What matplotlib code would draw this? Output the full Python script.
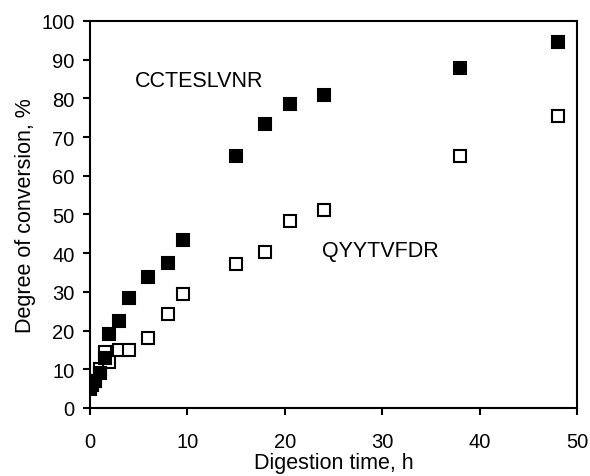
import matplotlib.pyplot as plt
import numpy as np

plt.rcParams['font.family'] = ['Liberation Sans', 'DejaVu Sans']

# digestion time, h
time_h = [0, 0.25, 0.5, 1, 1.5, 2, 3, 4, 6, 8, 9.5, 15, 18, 20.5, 24, 38, 48]
# degree of conversion, %
cctes = [5.5, 6.5, 7, 9, 13, 19, 22.5, 28.5, 33.8, 37.5, 43.4, 65, 73.4, 78.5, 81, 87.8, 94.7]
qyyt = [5, 6, 7, 10, 14.5, 11.8, 15, 15, 18, 24.3, 29.5, 37.2, 40.2, 48.2, 51.2, 65.2, 75.5]

fig = plt.figure(figsize=(5.9, 4.77), dpi=100)
ax = fig.add_axes([0.1525, 0.1426, 0.8255, 0.8113])

# open squares first, filled on top
ax.plot(time_h, qyyt, linestyle='none', marker='s', markersize=8.3,
        markerfacecolor='white', markeredgecolor='black', markeredgewidth=1.5)
ax.plot(time_h, cctes, linestyle='none', marker='s', markersize=8.3,
        markerfacecolor='black', markeredgecolor='black', markeredgewidth=1.5)

ax.text(4.6, 84.5, 'CCTESLVNR', fontsize=15.5, va='center', ha='left')
ax.text(23.8, 40.6, 'QYYTVFDR', fontsize=15.5, va='center', ha='left')

ax.set_xlim(0, 50)
ax.set_ylim(0, 100)
ax.set_xticks(np.arange(0, 51, 10))
ax.set_yticks(np.arange(0, 101, 10))

for s in ax.spines.values():
    s.set_linewidth(1.5)

ax.tick_params(axis='x', direction='out', length=5, width=1.5, labelsize=14.5, pad=12)
ax.tick_params(axis='y', direction='out', length=5, width=1.5, labelsize=14.5, pad=6)

ax.set_xlabel('Digestion time, h', fontsize=15.5, labelpad=1)
ax.set_ylabel('Degree of conversion, %', fontsize=15.5, labelpad=4)

fig.savefig('out.png', dpi=100)
